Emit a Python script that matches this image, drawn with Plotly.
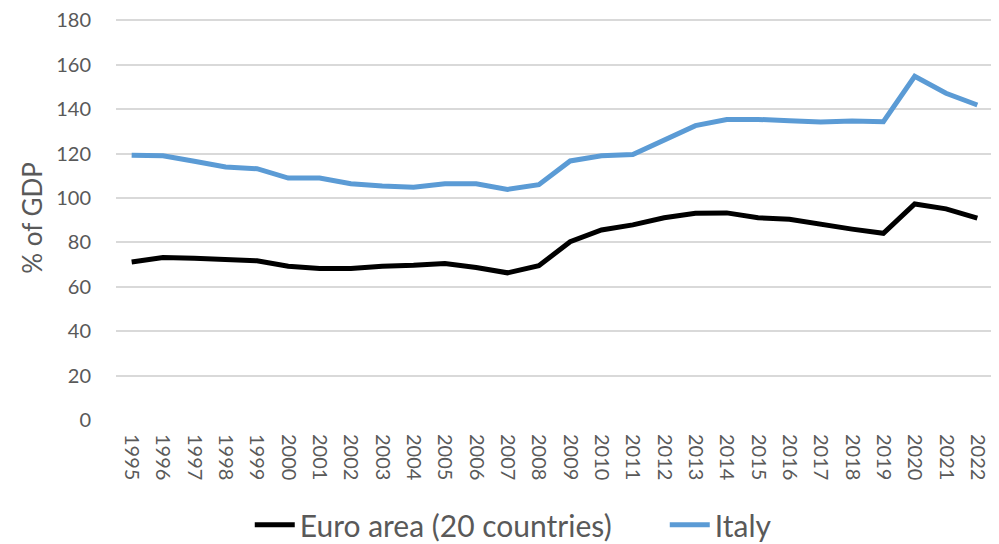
import plotly.graph_objects as go

years = [str(y) for y in range(1995, 2023)]
euro_area = [71.2, 73.2, 72.9, 72.4, 71.7, 69.3, 68.2, 68.2, 69.3, 69.7, 70.5, 68.7, 66.3, 69.5,
             80.3, 85.6, 87.9, 91.1, 93.1, 93.3, 91.1, 90.4, 88.1, 86.0, 84.1, 97.3, 95.1, 90.9]
italy = [119.3, 119.0, 116.6, 114.0, 113.2, 109.0, 109.0, 106.4, 105.4, 104.9, 106.4, 106.4, 103.9, 106.0,
         116.7, 119.0, 119.6, 126.4, 132.6, 135.4, 135.4, 134.8, 134.2, 134.7, 134.4, 154.8, 147.2, 141.9]
y_ticks = [0, 20, 40, 60, 80, 100, 120, 140, 160, 180]

font_family = "Lato, Open Sans, sans-serif"
grey = "#595959"

fig = go.Figure()
fig.add_trace(go.Scatter(x=years, y=euro_area, mode="lines", name="Euro area (20 countries)",
                         line=dict(color="#000000", width=5)))
fig.add_trace(go.Scatter(x=years, y=italy, mode="lines", name="Italy",
                         line=dict(color="#5B9BD5", width=5)))

fig.update_layout(
    width=999, height=544,
    margin=dict(l=108, r=14, t=8, b=132, autoexpand=False),
    paper_bgcolor="white", plot_bgcolor="white",
    font=dict(family=font_family, color=grey, size=18),
    showlegend=True,
    legend=dict(orientation="h", xref="container", yref="container",
                x=0.242, xanchor="left", y=0.05, yanchor="middle",
                font=dict(size=30, color=grey), itemwidth=40, tracegroupgap=0,
                entrywidth=360, entrywidthmode="pixels",
                bgcolor="rgba(0,0,0,0)"),
    xaxis=dict(type="category", tickangle=90, showgrid=False, showline=False, zeroline=False,
               tickfont=dict(size=20, color=grey), ticks="outside", ticklen=9,
               tickcolor="rgba(0,0,0,0)", range=[-0.5, 27.5], automargin=False,
               ticklabeloverflow="allow"),
    yaxis=dict(range=[0, 182], tickvals=y_ticks, showgrid=True, gridcolor="#D9D9D9", gridwidth=1.5,
               zeroline=False, showline=False, ticks="outside", ticklen=20,
               tickcolor="rgba(0,0,0,0)", automargin=False, ticklabeloverflow="allow",
               tickfont=dict(size=20, color=grey),
               title=dict(text="% of GDP", font=dict(size=26, color=grey), standoff=6)),
)

fig.write_html("out.html")
